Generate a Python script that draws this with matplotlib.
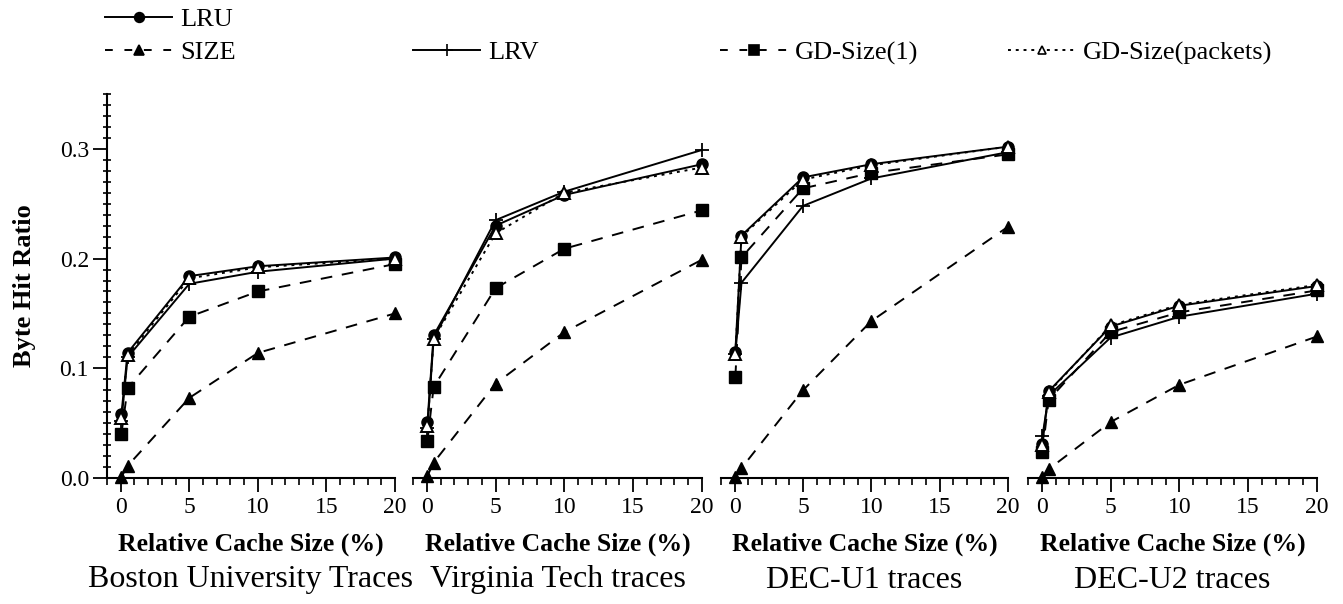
import numpy as np
import matplotlib
matplotlib.use('Agg')
import matplotlib.pyplot as plt
from matplotlib.lines import Line2D
from matplotlib.ticker import MultipleLocator, FormatStrFormatter, NullLocator

plt.rcParams['font.family'] = ['Liberation Serif', 'DejaVu Serif']

W, H = 1343, 604

# relative cache size (%)
cache_sizes = [0.05, 0.5, 5, 10, 20]

trace_names = ['Boston University Traces', 'Virginia Tech traces',
               'DEC-U1 traces', 'DEC-U2 traces']

# byte hit ratio per trace
lru = [
    [0.058, 0.114, 0.184, 0.193, 0.201],
    [0.051, 0.130, 0.230, 0.258, 0.286],
    [0.115, 0.221, 0.274, 0.286, 0.302],
    [0.031, 0.079, 0.138, 0.157, 0.175],
]
size = [
    [0.001, 0.011, 0.073, 0.114, 0.150],
    [0.002, 0.014, 0.086, 0.133, 0.199],
    [0.001, 0.009, 0.080, 0.143, 0.229],
    [0.001, 0.008, 0.051, 0.085, 0.129],
]
lrv = [
    [0.052, 0.110, 0.177, 0.188, 0.200],
    [0.046, 0.127, 0.235, 0.261, 0.299],
    [0.113, 0.178, 0.248, 0.273, 0.297],
    [0.038, 0.075, 0.128, 0.147, 0.168],
]
gd_one = [
    [0.040, 0.082, 0.147, 0.170, 0.195],
    [0.034, 0.083, 0.173, 0.209, 0.244],
    [0.092, 0.201, 0.264, 0.278, 0.295],
    [0.024, 0.071, 0.133, 0.151, 0.171],
]
gd_packets = [
    [0.055, 0.112, 0.182, 0.192, 0.200],
    [0.047, 0.127, 0.223, 0.260, 0.283],
    [0.113, 0.220, 0.272, 0.285, 0.302],
    [0.030, 0.078, 0.139, 0.158, 0.176],
]

axes_px = [(107, 395), (413, 702), (721, 1008), (1028, 1317)]

fig = plt.figure(figsize=(W / 100, H / 100), dpi=100)

y_bottom, y_top = 478, 94
lw = 1.4
dash = (0, (6, 5))
dots = (0, (1.5, 2.5))

for i in range(4):
    x0, x1 = axes_px[i]
    ax = fig.add_axes([x0 / W, 1 - y_bottom / H, (x1 - x0) / W, (y_bottom - y_top) / H])
    ax.plot(cache_sizes, size[i], color='black', lw=lw, ls=dash,
            marker='^', ms=8.5, clip_on=False)
    ax.plot(cache_sizes, gd_one[i], color='black', lw=lw, ls=dash,
            marker='s', ms=8.5, clip_on=False)
    ax.plot(cache_sizes, lrv[i], color='black', lw=lw, ls='-',
            marker='+', ms=10, mew=1.3, clip_on=False)
    ax.plot(cache_sizes, lru[i], color='black', lw=lw, ls='-',
            marker='o', ms=8, clip_on=False)
    ax.plot(cache_sizes, gd_packets[i], color='black', lw=lw, ls=dots,
            marker='^', ms=8.5, mfc='white', mec='black', mew=1.4, clip_on=False)

    ax.set_xlim(-1, 20)
    ax.set_ylim(0, 0.35)
    ax.spines['top'].set_visible(False)
    ax.spines['right'].set_visible(False)
    ax.spines['bottom'].set_linewidth(1.5)
    ax.xaxis.set_major_locator(MultipleLocator(5))
    ax.xaxis.set_minor_locator(MultipleLocator(1))
    ax.tick_params(axis='x', which='major', direction='out', length=10, width=1.3,
                   labelsize=17, pad=4)
    ax.tick_params(axis='x', which='minor', direction='out', length=5, width=1.2)
    ax.set_xlabel('Relative Cache Size (%)', fontsize=18.5, fontweight='bold', labelpad=10)
    ax.patch.set_alpha(0)

    if i == 0:
        ax.spines['left'].set_linewidth(1.5)
        ax.yaxis.set_major_locator(MultipleLocator(0.1))
        ax.yaxis.set_minor_locator(MultipleLocator(0.01))
        ax.yaxis.set_major_formatter(FormatStrFormatter('%.1f'))
        ax.tick_params(axis='y', which='major', direction='out', length=10, width=1.3,
                       labelsize=17, pad=3)
        ax.tick_params(axis='y', which='minor', direction='inout', length=6, width=1.2)
        ax.set_ylabel('Byte Hit Ratio', fontsize=19, fontweight='bold', labelpad=17)
    else:
        ax.spines['left'].set_visible(False)
        ax.set_yticks([])
        ax.yaxis.set_minor_locator(NullLocator())

    fig.text((x0 + x1) / 2 / W, 1 - 580 / H, trace_names[i], fontsize=23,
             ha='center', va='center')

# legend handles
def handle(ls, marker, mfc='black', ms=7):
    return Line2D([], [], color='black', lw=lw, ls=ls, marker=marker, ms=ms,
                  mfc=mfc, mec='black', mew=1.2)

h_lru = handle('-', 'o')
h_size = handle((0, (4, 6)), '^')
h_lrv = handle('-', '+', ms=9)
h_gd1 = handle((0, (4, 6)), 's')
h_gdp = handle((0, (1.5, 2.5)), '^', mfc='white', ms=6)

leg_kw = dict(frameon=False, fontsize=19, handlelength=2.55, handletextpad=0.3,
              labelspacing=0.35, borderaxespad=0, borderpad=0, loc='upper left')

fig.legend([h_lru, h_size], ['LRU', 'SIZE'],
           bbox_to_anchor=(105 / W, 1 - 8 / H), **leg_kw)
for x, h, lab in [(413, h_lrv, 'LRV'), (720, h_gd1, 'GD-Size(1)'),
                  (1008, h_gdp, 'GD-Size(packets)')]:
    fig.legend([h], [lab], bbox_to_anchor=(x / W, 1 - 41 / H), **leg_kw)

fig.savefig('out.png', dpi=100)
